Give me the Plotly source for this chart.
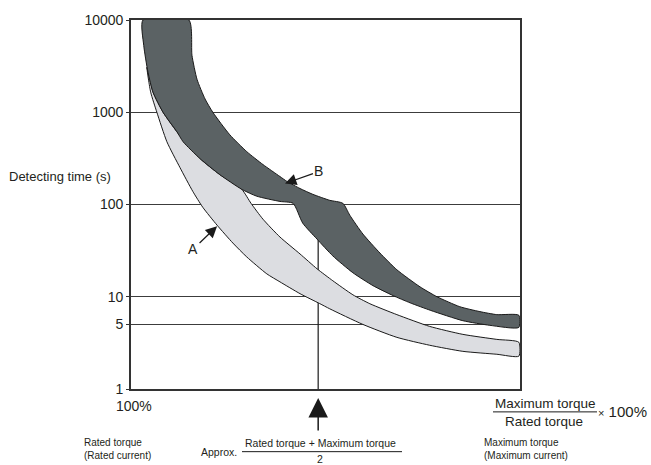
import math
import plotly.graph_objects as go

# ---------------- data (x: % of span between rated and maximum torque, y: seconds) -------------
tick_values = [1, 5, 10, 100, 1000, 10000]
tick_labels = ["1", "5", "10", "100", "1000", "10000"]

# Band B (dark) - upper edge, left to right (starts on the 10000 line)
b_upper_x = [2.6, 14.5, 15.3, 16.6, 18.7, 20.7, 25.1, 29.5, 33.7, 38.1, 39.9, 43.3, 46.6, 51.0,
             54.4, 56.2, 59.6, 64.0, 68.4, 74.4, 78.8, 84.7, 89.9, 94.3, 100]
b_upper_y = [10000, 10000, 4140, 2280, 1390, 1000, 570, 374, 271, 201, 178, 149, 129, 111,
             103, 76.5, 47.8, 29.8, 19.6, 12.8, 10.0, 7.8, 6.9, 6.4, 6.3]
# Band B (dark) - lower edge, left to right
b_lower_x = [2.6, 2.8, 3.9, 5.2, 7.8, 11.4, 13.0, 17.4, 22.5, 28.2, 32.1, 38.1, 41.5, 44.0,
             47.7, 51.8, 57.0, 62.2, 67.4, 71.8, 77.2, 85.5, 92.5, 100]
b_lower_y = [10000, 5300, 2720, 1650, 1000, 614, 479, 314, 211, 146, 123, 108, 103, 62.8,
             42.2, 27.7, 18.2, 13.2, 10.3, 8.6, 7.1, 5.5, 4.9, 4.65]

# Band A (light) - upper edge, left to right
a_upper_x = [3.6, 5.2, 7.8, 11.4, 17.4, 22.5, 28.2, 30.6, 33.7, 38.1, 43.3, 47.7, 51.8, 57.0,
             61.4, 68.4, 76.9, 85.5, 94.3, 100]
a_upper_y = [3070, 1650, 1000, 614, 314, 211, 146, 103, 69.3, 44.4, 29.1, 20.1, 14.9, 10.5,
             8.4, 6.4, 4.77, 3.91, 3.45, 3.21]
# Band A (light) - lower edge, left to right
a_lower_x = [3.6, 4.6, 6.2, 8.8, 12.2, 15.5, 18.1, 21.8, 25.9, 29.5, 34.7, 38.1, 43.3, 48.4,
             51.0, 59.6, 68.4, 76.9, 85.5, 94.3, 100]
a_lower_y = [3070, 1650, 1000, 479, 251, 139, 93.3, 59.7, 38.2, 27.0, 17.7, 14.5, 10.8, 8.43,
             7.4, 5.01, 3.63, 2.98, 2.56, 2.38, 2.27]

# Approx. (rated + maximum) / 2 marker
mid_x = 48
mid_line_y = [1, 60]

# Arrow labels: (tip x, tip y in seconds)
label_a_tip = (21.8, 58.2)
label_b_tip = (39.4, 169)

# ---------------- figure ----------------
DARK = "#5b6264"
LIGHT = "#dcdde1"
EDGE = "#1a1a1a"
GRID = "#3c3c3c"
TXT = "#231f20"
FONT = "Liberation Sans, Arial, sans-serif"

fig = go.Figure()

fig.add_trace(go.Scatter(x=[mid_x, mid_x], y=mid_line_y, mode="lines",
                         line=dict(color=EDGE, width=1.2), hoverinfo="skip", showlegend=False))

fig.add_trace(go.Scatter(
    x=a_upper_x + a_lower_x[::-1],
    y=a_upper_y + a_lower_y[::-1],
    mode="lines", fill="toself", fillcolor=LIGHT,
    line=dict(color=EDGE, width=1, shape="spline", smoothing=0.6),
    hoverinfo="skip", showlegend=False))

fig.add_trace(go.Scatter(
    x=b_upper_x + b_lower_x[::-1],
    y=b_upper_y + b_lower_y[::-1],
    mode="lines", fill="toself", fillcolor=DARK,
    line=dict(color=EDGE, width=1, shape="spline", smoothing=0.6),
    hoverinfo="skip", showlegend=False))

L, R, T, B = 131, 131, 18, 76
W, H = 651, 465
pw, ph = W - L - R, H - T - B


def px(x):
    return (x - L) / pw


def py(y):
    return (H - B - y) / ph


annotations = [
    dict(x=label_b_tip[0], y=math.log10(label_b_tip[1]), xref="x", yref="y", text="B",
         showarrow=True, ax=34, ay=-12, arrowhead=2, arrowsize=1.9, arrowwidth=1.2,
         arrowcolor=EDGE, font=dict(size=14, color=TXT)),
    dict(x=label_a_tip[0], y=math.log10(label_a_tip[1]), xref="x", yref="y", text="A",
         showarrow=True, ax=-24, ay=23, arrowhead=2, arrowsize=1.9, arrowwidth=1.2,
         arrowcolor=EDGE, font=dict(size=14, color=TXT)),
    dict(x=mid_x, y=py(398), xref="x", yref="paper", text="",
         showarrow=True, ax=0, ay=34, arrowhead=2, arrowsize=2.6, arrowwidth=1.5,
         arrowcolor=EDGE),
    dict(x=px(7), y=py(175), xref="paper", yref="paper", text="Detecting time (s)",
         showarrow=False, xanchor="left", yanchor="middle", font=dict(size=13, color=TXT)),
    dict(x=px(134), y=py(406), xref="paper", yref="paper", text="100%",
         showarrow=False, xanchor="center", yanchor="middle", font=dict(size=14, color=TXT)),
    dict(x=px(82), y=py(449), xref="paper", yref="paper",
         text="Rated torque<br>(Rated current)", align="left",
         showarrow=False, xanchor="left", yanchor="middle", font=dict(size=10, color=TXT)),
    dict(x=px(239), y=py(452), xref="paper", yref="paper", text="Approx.",
         showarrow=False, xanchor="right", yanchor="middle", font=dict(size=10.5, color=TXT)),
    dict(x=px(320), y=py(443), xref="paper", yref="paper", text="Rated torque + Maximum torque",
         showarrow=False, xanchor="center", yanchor="middle", font=dict(size=10.5, color=TXT)),
    dict(x=px(320), y=py(459.5), xref="paper", yref="paper", text="2",
         showarrow=False, xanchor="center", yanchor="middle", font=dict(size=10.5, color=TXT)),
    dict(x=px(482), y=py(449), xref="paper", yref="paper",
         text="Maximum torque<br>(Maximum current)", align="left",
         showarrow=False, xanchor="left", yanchor="middle", font=dict(size=10, color=TXT)),
    dict(x=px(545), y=py(404), xref="paper", yref="paper", text="Maximum torque",
         showarrow=False, xanchor="center", yanchor="middle", font=dict(size=13.5, color=TXT)),
    dict(x=px(544), y=py(422), xref="paper", yref="paper", text="Rated torque",
         showarrow=False, xanchor="center", yanchor="middle", font=dict(size=13.5, color=TXT)),
    dict(x=px(596), y=py(411.5), xref="paper", yref="paper",
         text="<span style='font-size:11px'>×</span> 100%",
         showarrow=False, xanchor="left", yanchor="middle", font=dict(size=15, color=TXT)),
]

shapes = [
    dict(type="line", xref="paper", yref="paper", x0=px(242), x1=px(402), y0=py(452), y1=py(452),
         line=dict(color=EDGE, width=1)),
    dict(type="line", xref="paper", yref="paper", x0=px(493), x1=px(597), y0=py(412), y1=py(412),
         line=dict(color=EDGE, width=1)),
]

fig.update_layout(
    width=W, height=H,
    margin=dict(l=L, r=R, t=T, b=B, pad=0),
    paper_bgcolor="white", plot_bgcolor="white",
    font=dict(family=FONT, color=TXT),
    showlegend=False, hovermode=False,
    annotations=annotations, shapes=shapes,
    xaxis=dict(range=[-0.5, 100.3], showticklabels=False, ticks="", showgrid=False,
               zeroline=False, showline=True, linecolor="#333333", linewidth=1.6, mirror=True),
    yaxis=dict(type="log", range=[0, 4], tickvals=tick_values, ticktext=tick_labels,
               ticks="outside", ticklen=3, tickcolor="#333333", tickwidth=1.2,
               tickfont=dict(size=14, color=TXT), showgrid=True, gridcolor=GRID, gridwidth=1.3,
               zeroline=False, showline=True, linecolor="#333333", linewidth=1.6, mirror=True),
)

fig.write_html("out.html", config={"displayModeBar": False},
               post_script="document.body.style.margin='0';document.body.style.overflow='hidden';")
